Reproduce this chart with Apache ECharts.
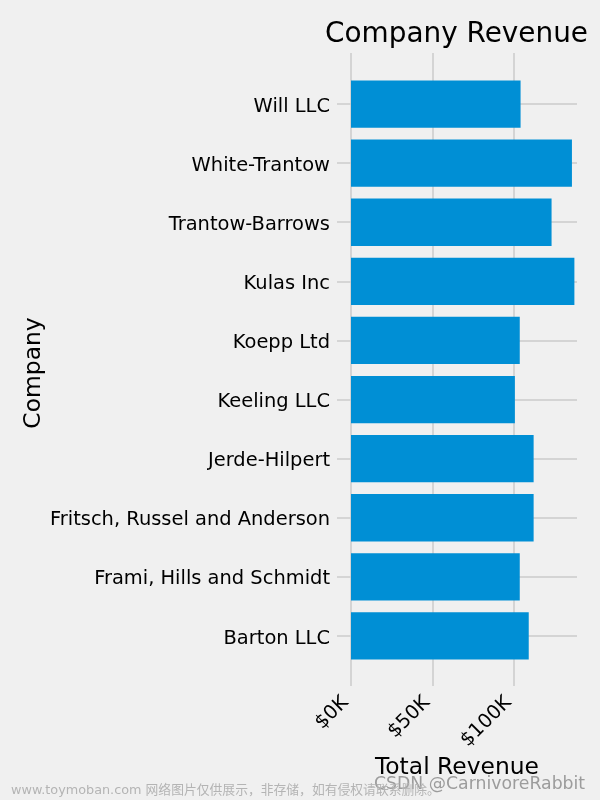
<!DOCTYPE html>
<html><head><meta charset="utf-8">
<style>html,body{margin:0;padding:0;background:#f0f0f0}#c{width:600px;height:800px}</style>
<script src="https://cdn.jsdelivr.net/npm/echarts@6/dist/echarts.min.js"></script>
</head><body><div id="c"></div>
<script>
const companies = ["Barton LLC","Frami, Hills and Schmidt","Fritsch, Russel and Anderson","Jerde-Hilpert","Keeling LLC","Koepp Ltd","Kulas Inc","Trantow-Barrows","White-Trantow","Will LLC"];
const revenue = [109,103.5,112,112,100.5,103.5,137,123,135.5,104];
const xTicks = [0,50,100];
const font = "DejaVu Sans";
const grid = "#cbcbcb";
const chart = echarts.init(document.getElementById('c'));
chart.setOption({
  backgroundColor:"#f0f0f0",
  animation:false,
  grid:[
    {left:351,width:226,top:53,height:633},
    {left:351,width:226,top:74.5,height:591}
  ],
  xAxis:[
    {gridIndex:0,type:'value',min:0,max:138.6,interval:50,
     axisLine:{show:false},axisTick:{show:false},
     splitLine:{show:true,showMaxLine:false,lineStyle:{color:grid,width:1.5}},
     axisLabel:{rotate:45,align:'right',verticalAlign:'middle',margin:8,padding:[0,8,0,0],fontFamily:font,fontSize:19.5,color:'#000',
       showMaxLabel:false,formatter:v=>xTicks.includes(v)?'$'+v+'K':''}},
    {gridIndex:1,type:'value',min:0,max:138.6,interval:50,show:false}
  ],
  yAxis:[
    {gridIndex:0,type:'value',min:0,max:1,show:false},
    {gridIndex:1,type:'category',data:companies,
     axisLine:{show:false},
     axisTick:{show:true,alignWithLabel:true,length:14,lineStyle:{color:grid,width:1.5}},
     splitLine:{show:true,alignWithLabel:true,lineStyle:{color:grid,width:1.5}},
     axisLabel:{margin:21,verticalAlign:'top',lineHeight:5,fontFamily:font,fontSize:19.45,color:'#000'},
     name:'Company',nameLocation:'middle',nameGap:306,nameTextStyle:{fontFamily:font,fontSize:23.4,color:'#000',padding:[0,6,0,0]}}
  ],
  series:[{type:'bar',xAxisIndex:1,yAxisIndex:1,data:revenue,barWidth:'80%',itemStyle:{color:'#008fd5'}}],
  graphic:[
    {type:'text',left:325,top:21,style:{text:'Company Revenue',font:'27.9px "DejaVu Sans"',fill:'#000'}},
    {type:'text',left:375,top:756,style:{text:'Total Revenue',font:'23.4px "DejaVu Sans"',fill:'#000'}},
    {type:'text',left:374,top:776,style:{text:'CSDN @CarnivoreRabbit',font:'17.3px "DejaVu Sans"',fill:'rgba(120,120,120,0.7)'}},
    {type:'text',left:11,top:784,style:{text:'www.toymoban.com 网络图片仅供展示，非存储，如有侵权请联系删除。',font:'12.8px "DejaVu Sans","Noto Sans CJK SC"',fill:'#b4b4b4'}}
  ]
});
</script></body></html>
